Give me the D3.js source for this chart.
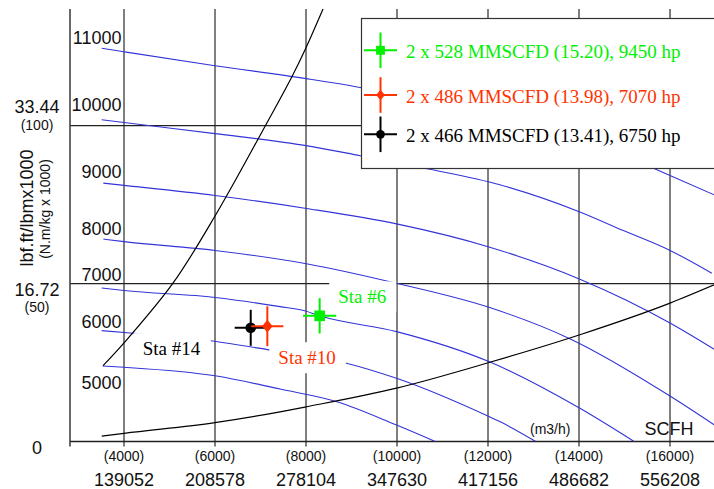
<!DOCTYPE html>
<html lang="en">
<head>
<meta charset="utf-8">
<title>Compressor map</title>
<script src="https://d3js.org/d3.v7.min.js"></script>
<style>
  body { margin: 0; background: #fff; }
  svg { display: block; }
  .sans { font-family: "Liberation Sans", Arial, sans-serif; fill: #111; }
  .serif { font-family: "Liberation Serif", "Times New Roman", serif; }
</style>
</head>
<body>
<script>
// flow in m3/h, head in N.m/kg x 1000
const flowTicks = [4000, 6000, 8000, 10000, 12000, 14000, 16000];
const scfhLabels = ["139052", "208578", "278104", "347630", "417156", "486682", "556208"];
const headTicks = [0, 50, 100];
const headFtLabels = ["0", "16.72", "33.44"];
const headSiLabels = ["", "(50)", "(100)"];

// speed lines (rpm)
const speeds = [11000, 10000, 9000, 8000, 7000, 6000, 5000];
const speed11000 = [[3510,124.5],[4000,123.4],[6000,119.0],[8000,114.9],[9190,112.1],[10500,108.3],[12000,103.7],[13000,100.2],[14000,96.2],[15700,86.1],[16000,84.2],[16970,78.1]];
const speed10000 = [[3510,101.9],[4000,101.0],[6000,97.5],[8000,93.7],[9190,90.5],[10690,86.3],[12260,81.3],[14020,72.7],[14990,66.7],[16000,60.5],[16920,53.3]];
const speed9000 = [[3545,81.8],[4000,81.1],[6000,77.9],[8010,73.8],[9990,68.9],[12020,61.6],[14020,51.4],[15030,44.8],[16000,37.5],[16970,29.2]];
const speed8000 = [[3545,64.1],[4000,63.3],[6000,60.5],[8010,56.3],[9990,50.1],[12020,42.5],[13820,32.4],[16000,14.4],[16970,5.3]];
const speed7000 = [[3510,48.6],[4000,47.8],[6000,45.6],[7430,42.7],[7970,41.4],[8300,39.8],[9990,34.8],[12020,25.3],[14020,10.5],[15210,0]];
const speed6000 = [[3510,35.1],[4200,34.3],[5900,31.9],[7200,29.0],[8890,24.8],[9990,20.0],[12020,7.9],[12260,6.3],[13050,0]];
const speed5000 = [[3530,23.9],[4000,23.5],[6000,20.8],[7430,16.6],[8680,12.6],[9990,5.2],[10840,0]];
const speedCurves = [speed11000, speed10000, speed9000, speed8000, speed7000, speed6000, speed5000];

const surgeLine = [[3540,24.0],[4000,31.2],[5080,50.2],[6000,71.4],[7050,98.5],[7690,115.5],[8000,124.7],[8420,138.5]];
const systemCurve = [[3510,1.7],[4000,2.6],[6000,6.0],[7430,9.4],[8010,11.0],[9990,16.9],[12020,25.0],[14020,33.8],[16000,43.8],[16970,49.6]];

// station operating points
const stations = ["Sta #6", "Sta #10", "Sta #14"];
const stationFlow = [8300, 7150, 6785];
const stationHead = [39.8, 36.5, 36.0];
const stationFlowErr = [365, 352, 352];
const stationHeadErr = [5.6, 6.3, 5.7];
const legendLabels = ["2 x 528 MMSCFD (15.20), 9450 hp", "2 x 486 MMSCFD (13.98), 7070 hp", "2 x 466 MMSCFD (13.41), 6750 hp"];

// layout
const W = 714, H = 489;
const plotLeft = 70, plotRight = 714, plotTop = 9, plotBottom = 441.5;
const colors = ["#00f000", "#ff3300", "#000000"];
const shapes = ["square", "diamond", "circle"];
const blue = "#3434d8";
const speedLabelDy = [-4, -9, -5, -4, -7, -3, 23];
const stationLabelOffset = [[18.6, -12.4], [11, 38], [-108, 27.3]];

const svg = d3.select("body").append("svg")
    .attr("width", W)
    .attr("height", H)
    .style("background-color", "white");

const x = d3.scaleLinear().domain([2813, 16967]).range([plotLeft, plotRight]);
const y = d3.scaleLinear().domain([0, 136.95]).range([plotBottom, plotTop]);

svg.append("clipPath").attr("id", "plot")
  .append("rect").attr("x", plotLeft).attr("y", plotTop)
    .attr("width", plotRight - plotLeft).attr("height", plotBottom - plotTop);

// grid
svg.selectAll("line.vgrid")
  .data(flowTicks)
  .enter().append("line")
    .attr("class", "vgrid")
    .attr("x1", d => x(d)).attr("x2", d => x(d))
    .attr("y1", plotTop).attr("y2", plotBottom + 5)
    .attr("stroke", "#000").attr("stroke-width", 1);

svg.selectAll("line.hgrid")
  .data(headTicks.filter(d => d > 0))
  .enter().append("line")
    .attr("class", "hgrid")
    .attr("x1", plotLeft).attr("x2", plotRight)
    .attr("y1", d => y(d)).attr("y2", d => y(d))
    .attr("stroke", "#222").attr("stroke-width", 1.2);

// axes lines
svg.append("line").attr("x1", plotLeft).attr("x2", plotLeft).attr("y1", plotTop).attr("y2", plotBottom + 5)
  .attr("stroke", "#444").attr("stroke-width", 1.6);
svg.append("line").attr("x1", plotLeft).attr("x2", plotRight).attr("y1", plotBottom).attr("y2", plotBottom)
  .attr("stroke", "#222").attr("stroke-width", 1.4);

// curves
const line = d3.line()
    .x(d => x(d[0]))
    .y(d => y(d[1]))
    .curve(d3.curveMonotoneX);

const curves = svg.append("g").attr("clip-path", "url(#plot)");

curves.selectAll("path.speed")
  .data(speedCurves)
  .enter().append("path")
    .attr("class", "speed")
    .attr("d", line)
    .attr("fill", "none")
    .attr("stroke", blue)
    .attr("stroke-width", 1.1);

curves.append("path").datum(surgeLine)
    .attr("d", line.curve(d3.curveCatmullRom)).attr("fill", "none").attr("stroke", "#000").attr("stroke-width", 1.2);
line.curve(d3.curveMonotoneX);
curves.append("path").datum(systemCurve)
    .attr("d", line).attr("fill", "none").attr("stroke", "#000").attr("stroke-width", 1.2);

// speed labels
svg.selectAll("text.speed")
  .data(speeds)
  .enter().append("text")
    .attr("class", "sans")
    .attr("x", 121.5)
    .attr("y", (d, i) => y(speedCurves[i][0][1]) + speedLabelDy[i])
    .attr("text-anchor", "end")
    .style("font-size", "18px")
    .text(d => d);

// x tick labels
svg.selectAll("text.xsmall")
  .data(flowTicks)
  .enter().append("text")
    .attr("class", "sans")
    .attr("x", d => x(d))
    .attr("y", 460.5)
    .attr("text-anchor", "middle")
    .style("font-size", "14px")
    .text(d => "(" + d + ")");

svg.selectAll("text.xbig")
  .data(flowTicks)
  .enter().append("text")
    .attr("class", "sans")
    .attr("x", d => x(d))
    .attr("y", 486)
    .attr("text-anchor", "middle")
    .style("font-size", "18px")
    .text((d, i) => scfhLabels[i]);

// y tick labels
const ftDy = [12, 12, -12.6];
const siDy = [0, 28.7, 4.5];
headTicks.forEach((t, i) => {
  svg.append("text").attr("class", "sans")
    .attr("x", 37).attr("y", y(t) + ftDy[i])
    .attr("text-anchor", "middle").style("font-size", "18px")
    .text(headFtLabels[i]);
  if (headSiLabels[i]) {
    svg.append("text").attr("class", "sans")
      .attr("x", 37).attr("y", y(t) + siDy[i])
      .attr("text-anchor", "middle").style("font-size", "14px")
      .text(headSiLabels[i]);
  }
});

// axis titles
svg.append("text").attr("class", "sans")
  .attr("transform", "translate(33,208) rotate(-90)")
  .attr("text-anchor", "middle").style("font-size", "18px")
  .text("lbf.ft/lbmx1000");
svg.append("text").attr("class", "sans")
  .attr("transform", "translate(50,209) rotate(-90)")
  .attr("text-anchor", "middle").style("font-size", "14px")
  .text("(N.m/kg x 1000)");
svg.append("text").attr("class", "sans")
  .attr("x", 530).attr("y", 434).style("font-size", "14px").text("(m3/h)");
svg.append("text").attr("class", "sans")
  .attr("x", 644.5).attr("y", 435).style("font-size", "18px").text("SCFH");

// station labels with white boxes
const labelG = svg.append("g");
stations.forEach((s, i) => {
  const tx = x(stationFlow[i]) + stationLabelOffset[i][0];
  const ty = y(stationHead[i]) + stationLabelOffset[i][1];
  const g = labelG.append("g");
  const box = g.append("rect").attr("fill", "white");
  const t = g.append("text").attr("class", "serif")
    .attr("x", tx).attr("y", ty)
    .style("font-size", "19px")
    .attr("fill", colors[i])
    .text(s);
  const bb = t.node().getBBox();
  box.attr("x", bb.x - 9).attr("y", bb.y - 5)
    .attr("width", bb.width + 19).attr("height", bb.height + 10);
});

// markers
function drawMarker(g, shape, cx, cy, size, color) {
  if (shape === "square") {
    g.append("rect").attr("x", cx - size).attr("y", cy - size)
      .attr("width", size * 2).attr("height", size * 2).attr("fill", color);
  } else if (shape === "diamond") {
    g.append("path")
      .attr("d", `M${cx},${cy - size * 1.2}L${cx + size},${cy}L${cx},${cy + size * 1.2}L${cx - size},${cy}Z`)
      .attr("fill", color);
  } else {
    g.append("circle").attr("cx", cx).attr("cy", cy).attr("r", size).attr("fill", color);
  }
}

const markerG = svg.append("g");
// draw black first so red sits over it
[2, 1, 0].forEach(i => {
  const cx = x(stationFlow[i]), cy = y(stationHead[i]);
  const g = markerG.append("g");
  g.append("line")
    .attr("x1", x(stationFlow[i] - stationFlowErr[i])).attr("x2", x(stationFlow[i] + stationFlowErr[i]))
    .attr("y1", cy).attr("y2", cy)
    .attr("stroke", colors[i]).attr("stroke-width", 2);
  g.append("line")
    .attr("x1", cx).attr("x2", cx)
    .attr("y1", y(stationHead[i] + stationHeadErr[i])).attr("y2", y(stationHead[i] - stationHeadErr[i]))
    .attr("stroke", colors[i]).attr("stroke-width", 2);
  drawMarker(g, shapes[i], cx, cy, 5.3, colors[i]);
});

// legend
const legend = svg.append("g");
legend.append("rect")
  .attr("x", 361.5).attr("y", 18.5)
  .attr("width", 400).attr("height", 150)
  .attr("fill", "white").attr("stroke", "#333").attr("stroke-width", 1.2);

const rowY = [50.3, 95, 134.3];
legendLabels.forEach((lab, i) => {
  const cx = 380.5, cy = rowY[i];
  const g = legend.append("g");
  g.append("line").attr("x1", cx - 16.5).attr("x2", cx + 16.5).attr("y1", cy).attr("y2", cy)
    .attr("stroke", colors[i]).attr("stroke-width", 2);
  g.append("line").attr("x1", cx).attr("x2", cx).attr("y1", cy - 17.8).attr("y2", cy + 17.8)
    .attr("stroke", colors[i]).attr("stroke-width", 2);
  drawMarker(g, shapes[i], cx, cy, 4.4, colors[i]);
  g.append("text").attr("class", "serif")
    .attr("x", 406).attr("y", cy + 7.5)
    .style("font-size", "19px")
    .attr("fill", colors[i])
    .text(lab);
});
</script>
</body>
</html>
